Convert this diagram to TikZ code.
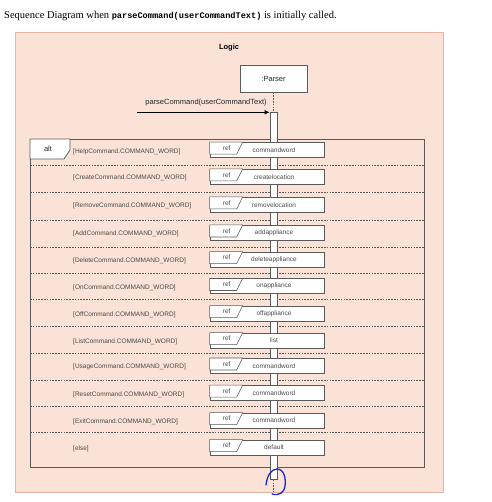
\documentclass[tikz,border=0pt]{standalone}
\usepackage{fontspec}
\setmainfont{Liberation Serif}
\setsansfont{Liberation Sans}
\setmonofont{Liberation Mono}
\usetikzlibrary{arrows.meta}
\definecolor{logicfill}{HTML}{FBE2D6}
\definecolor{logicborder}{HTML}{E6B4A2}
\definecolor{linegray}{HTML}{5A5A5A}
\definecolor{textgray}{HTML}{4A4A4A}
\definecolor{scribble}{HTML}{1A2AD8}
\tikzset{
  smalltext/.style={font=\sffamily\fontsize{6.5}{7.5}\selectfont, text=textgray, inner sep=0pt},
  midtext/.style={font=\sffamily\fontsize{7.5}{9}\selectfont, text=black!85, inner sep=0pt},
  refbox/.style={draw=linegray, line width=0.7pt, fill=white, minimum width=114pt, minimum height=15pt, inner sep=0pt},
  refline/.style={draw=linegray, line width=0.6pt},
  sepline/.style={draw=linegray, line width=0.6pt, dash pattern=on 1.6pt off 1.2pt},
  lifeline/.style={draw=linegray, line width=0.6pt, dash pattern=on 1.6pt off 1.2pt},
}
\begin{document}
\begin{tikzpicture}[x=1pt,y=-1pt]
\useasboundingbox (0,0) rectangle (491,502);
% title
\node[anchor=base west, inner sep=0pt, font=\fontsize{10.5}{12}\selectfont] (title) at (4,19)
  {Sequence Diagram when {\ttfamily\bfseries\fontsize{8.6}{10}\selectfont parseCommand(userCommandText)} is initially called.};
% Logic frame
\node[draw=logicborder, line width=0.8pt, fill=logicfill, anchor=north west, minimum width=428pt, minimum height=460pt, inner sep=0pt] (logic) at (15,32) {};
\node[font=\sffamily\bfseries\fontsize{7.5}{9}\selectfont, inner sep=0pt] (logiclbl) at (229,48) {Logic};
% Parser
\node[draw=linegray, line width=0.7pt, fill=white, minimum width=67pt, minimum height=26.6pt, inner sep=0pt, midtext] (parser) at (273.5,79) {:Parser};
% alt frame
\node[draw=linegray, line width=0.8pt, anchor=north west, minimum width=394pt, minimum height=327.7pt, inner sep=0pt] (alt) at (30,139) {};
\draw[draw=linegray, line width=0.7pt, fill=white] (alt.north west) -- ++(40,0) -- ++(0,11) -- ++(-6,9) -- ++(-34,0) -- cycle;
\node[midtext] (altlbl) at (48,148.5) {alt};
% separators
\foreach \y in {165,192.7,220,247.3,273.3,299.3,326,353.3,380,406,432.7}
  \draw[sepline] (30,\y) -- (424,\y);
% activation bar
\node[draw=linegray, line width=0.7pt, fill=white, minimum width=7pt, minimum height=366.7pt, anchor=north, inner sep=0pt] (act) at (273.5,112.3) {};
\coordinate (lifeend) at (273.5,492);
\draw[lifeline] (parser.south) -- (act.north);
\draw[lifeline] (act.south) -- (lifeend);
% incoming message
\coordinate (src) at (137,112.3);
\draw[line width=0.7pt, -{Latex[length=5pt,width=4.5pt]}] (src) -- (act.north west)
  node[midtext, pos=0.52, above=6pt] (msglbl) {parseCommand(userCommandText)};
% rows
\foreach \i/\y/\g/\r in {
  1/150/{[HelpCommand.COMMAND\_WORD]}/commandword,
  2/176.8/{[CreateCommand.COMMAND\_WORD]}/createlocation,
  3/204.8/{[RemoveCommand.COMMAND\_WORD]}/removelocation,
  4/232.8/{[AddCommand.COMMAND\_WORD]}/addappliance,
  5/259.5/{[DeleteCommand.COMMAND\_WORD]}/deleteappliance,
  6/286.3/{[OnCommand.COMMAND\_WORD]}/onappliance,
  7/313.5/{[OffCommand.COMMAND\_WORD]}/offappliance,
  8/340.5/{[ListCommand.COMMAND\_WORD]}/list,
  9/365.8/{[UsageCommand.COMMAND\_WORD]}/commandword,
  10/393/{[ResetCommand.COMMAND\_WORD]}/commandword,
  11/420.5/{[ExitCommand.COMMAND\_WORD]}/commandword,
  12/447.5/{[else]}/default}
{
  \node[smalltext, anchor=west] (guard\i) at (73,\y+1.5) {\g};
  \node[refbox] (ref\i) at (267,\y) {};
  \draw[refline, fill=white] (ref\i.north west) -- ++(33,0) -- ++(-6,12) -- ++(-27,0) -- cycle;
  \node[smalltext] (reflbl\i) at ([xshift=17pt,yshift=-6pt]ref\i.north west) {ref};
  \node[smalltext] (refname\i) at (274,\y) {\r};
}
% hand-drawn blue mark
\draw[scribble, line width=1.3pt, line cap=round, line join=round]
  (266,485) .. controls (267,476) and (271,469) .. (277,469)
  .. controls (284,469) and (286,478) .. (285,486)
  .. controls (284,493) and (279,496) .. (272,494);
\end{tikzpicture}
\end{document}
